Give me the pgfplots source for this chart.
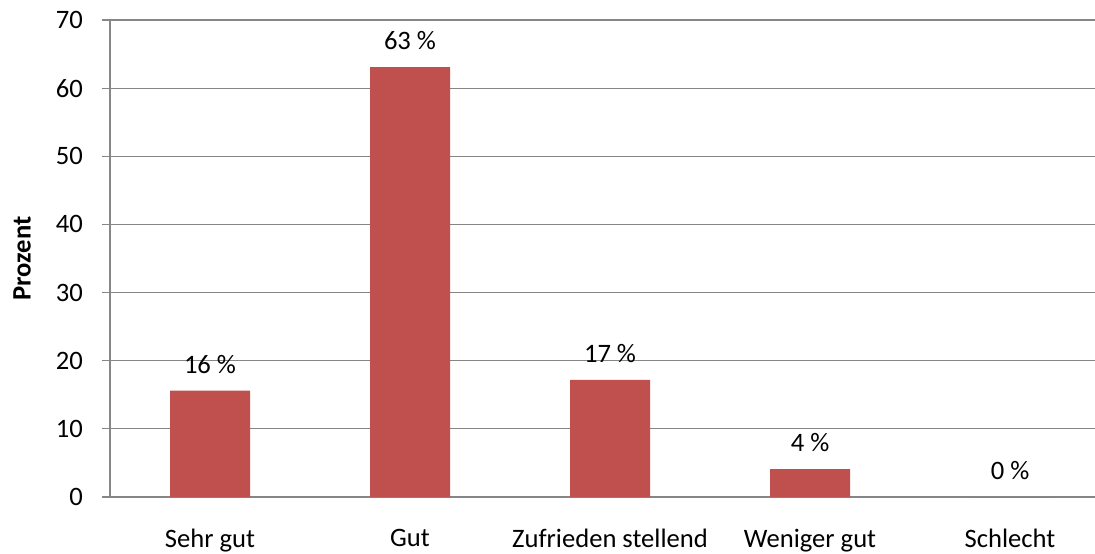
\documentclass[border=0pt]{standalone}
\usepackage{fontspec}
\setmainfont{Carlito}
\usepackage{pgfplots}
\pgfplotsset{compat=1.18}
\definecolor{barred}{RGB}{192,80,77}
\definecolor{gridgray}{RGB}{134,134,134}
\begin{document}
\begin{tikzpicture}
\path[use as bounding box] (-55pt,-28pt) rectangle (492.5pt,248.5pt);
\begin{axis}[
  scale only axis,
  width=500pt, height=238.5pt,
  xmin=-0.5, xmax=4.5,
  ymin=0, ymax=70,
  ytick={0,10,...,70},
  xtick={0,1,2,3,4},
  xticklabels={Sehr gut,Gut,Zufrieden stellend,Weniger gut,Schlecht},
  extra x ticks={-0.5,0.5,1.5,2.5,3.5},
  extra x tick labels={},
  extra x tick style={major tick length=4pt, tick style={gridgray, line width=0.6pt}},
  major x tick style={draw=none},
  major tick length=4pt,
  tick align=outside,
  axis x line*=bottom, axis y line*=left,
  axis line style={gridgray, line width=0.6pt, -},
  ytick style={gridgray, line width=0.6pt},
  ymajorgrids, grid style={gridgray, line width=0.6pt},
  /pgf/number format/assume math mode=true,
  tick label style={font=\fontsize{13.3}{15}\selectfont, black},
  xticklabel style={yshift=-8.5pt},
  yticklabel style={xshift=-6pt},
  ylabel={\textbf{Prozent}},
  ylabel style={font=\fontsize{13.3}{15}\selectfont, at={(axis description cs:-0.088,0.5)}, anchor=center},
  ybar, bar width=40pt,
  clip=false,
  nodes near coords={\pgfmathprintnumber[fixed,precision=0,assume math mode=true]{\pgfplotspointmeta}~\%},
  nodes near coords style={font=\fontsize{13.3}{15}\selectfont, black, yshift=5pt},
]
\addplot[fill=barred, draw=none] coordinates {(0,15.6) (1,63.1) (2,17.2) (3,4.1) (4,0)};
\end{axis}
\end{tikzpicture}
\end{document}
